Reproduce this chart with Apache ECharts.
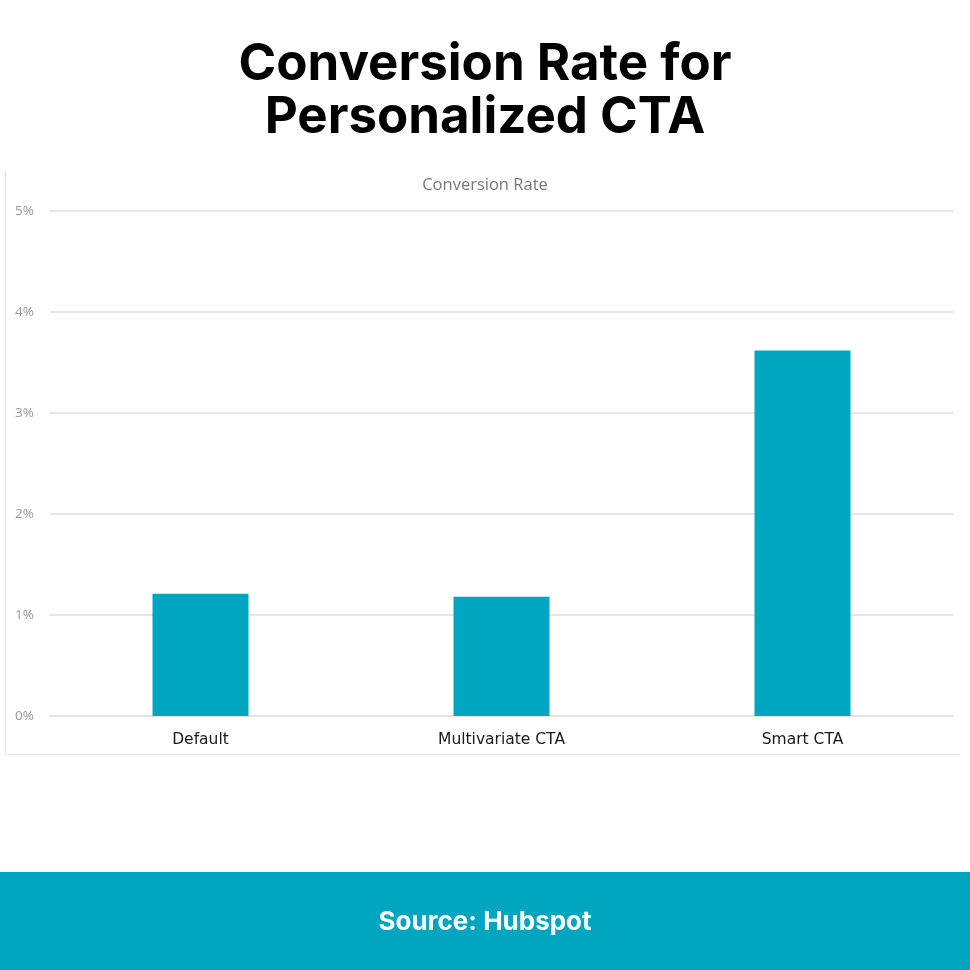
<!DOCTYPE html>
<html>
<head>
<meta charset="utf-8">
<script src="https://cdn.jsdelivr.net/npm/echarts@6/dist/echarts.min.js"></script>
<style>
  html, body { margin: 0; padding: 0; background: #fff; }
  #main { width: 970px; height: 970px; }
</style>
</head>
<body>
<div id="main"></div>
<script>
// data
var categories = ['Default', 'Multivariate CTA', 'Smart CTA'];
var rates = [1.21, 1.18, 3.62];
var yTicks = [0, 1, 2, 3, 4, 5];

var teal = '#00a5bf';
var myChart = echarts.init(document.getElementById('main'));

var option = {
  backgroundColor: '#fff',
  animation: false,
  title: [
    {
      text: 'Conversion Rate for\nPersonalized CTA',
      left: 'center',
      top: 33,
      textStyle: {
        fontFamily: 'Inter',
        fontWeight: 'bold',
        fontSize: 51,
        lineHeight: 53,
        color: '#000'
      }
    },
    {
      text: 'Conversion Rate',
      left: 'center',
      top: 172,
      textStyle: {
        fontFamily: 'Open Sans',
        fontWeight: 'normal',
        fontSize: 16.5,
        color: '#777'
      }
    },
    {
      text: 'Source: Hubspot',
      left: 'center',
      top: 904,
      textStyle: {
        fontFamily: 'Inter',
        fontWeight: 'bold',
        fontSize: 26,
        color: '#fff'
      }
    }
  ],
  graphic: [
    {
      // chart frame
      type: 'polyline',
      shape: { points: [[5.5, 172], [5.5, 754.5], [960, 754.5]] },
      style: { stroke: '#e6e6e6', lineWidth: 1, fill: null },
      z: 0
    },
    {
      // footer band
      type: 'rect',
      shape: { x: 0, y: 872, width: 970, height: 98 },
      style: { fill: teal },
      z: 0
    }
  ],
  grid: { left: 50, right: 17, top: 211, bottom: 254 },
  xAxis: {
    type: 'category',
    data: categories,
    axisTick: { show: false },
    axisLine: { show: true, lineStyle: { color: '#e3e3e3', width: 2 } },
    axisLabel: {
      margin: 16,
      fontFamily: 'DejaVu Sans',
      fontSize: 15.5,
      color: '#1a1a1a'
    }
  },
  yAxis: {
    type: 'value',
    min: 0,
    max: 5,
    interval: 1,
    axisLine: { show: false },
    axisTick: { show: false },
    axisLabel: {
      margin: 16,
      fontFamily: 'Open Sans',
      fontSize: 13.5,
      color: '#999',
      formatter: function (v) { return yTicks.indexOf(v) >= 0 ? v + '%' : ''; }
    },
    splitLine: { lineStyle: { color: '#e6e6e6', width: 2 } }
  },
  series: [
    {
      type: 'bar',
      data: rates,
      barWidth: 96,
      itemStyle: { color: teal },
      z: 3
    }
  ]
};

myChart.setOption(option);
</script>
</body>
</html>
